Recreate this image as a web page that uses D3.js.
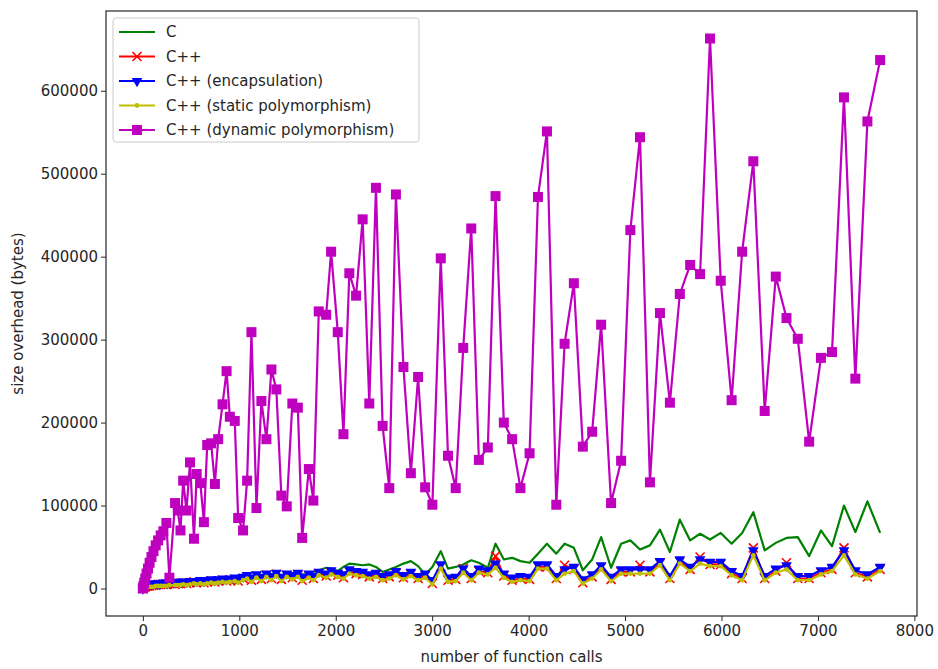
<!DOCTYPE html>
<html>
<head>
<meta charset="utf-8">
<script src="https://cdn.jsdelivr.net/npm/d3@7/dist/d3.min.js"></script>
<style>
    body { margin: 0; background: #fff; }
    svg text { font-family: "DejaVu Sans", sans-serif; fill: #262626; }
</style>
</head>
<body>
<div id="chart"></div>
<script>

// number of function calls (shared x values)
const xCalls = [
    0, 6, 14, 25, 38, 53, 70, 89, 110, 133, 158, 185, 213, 244, 275,
    334, 362, 390, 418, 452, 489, 530, 558, 596, 633, 667, 708, 747, 781, 826,
    868, 902, 953, 988, 1039, 1081, 1126, 1178, 1229, 1281, 1333, 1384, 1436, 1492, 1550,
    1607, 1652, 1721, 1768, 1824, 1901, 1952, 2021, 2080, 2141, 2211, 2279, 2348, 2417, 2486,
    2555, 2624, 2702, 2779, 2854, 2927, 3002, 3089, 3164, 3244, 3322, 3405, 3484, 3577, 3657,
    3743, 3829, 3915, 4010, 4097, 4190, 4287, 4373, 4469, 4562, 4659, 4752, 4855, 4959, 5055,
    5155, 5258, 5362, 5465, 5568, 5675, 5778, 5881, 5992, 6105, 6214, 6330, 6448, 6563, 6674,
    6791, 6909, 7031, 7146, 7270, 7388, 7513, 7645
];

// size overhead (bytes) per variant
const sizeC = [
    0, 3000, 4000, 5000, 5000, 6000, 6000, 6000, 7000, 7000, 7000, 7000, 8000, 8000, 8000,
    8000, 9000, 9000, 9000, 9000, 10000, 10000, 10000, 11000, 10000, 11000, 12000, 11000, 12000, 13000,
    12000, 13000, 14000, 13000, 15000, 17000, 14000, 18000, 15000, 19000, 16000, 20000, 15000, 19000, 17000,
    19000, 17000, 16000, 20000, 22000, 25000, 24000, 21000, 26000, 30000, 29000, 28000, 29000, 26000, 20000,
    23000, 26000, 30000, 33000, 27000, 17000, 26000, 45000, 24000, 26000, 29000, 34000, 31000, 25000, 54000,
    35000, 37000, 33000, 31000, 42000, 54000, 42000, 54000, 49000, 22000, 35000, 62000, 25000, 54000, 58000,
    47000, 52000, 71000, 44000, 83000, 58000, 66000, 59000, 67000, 54000, 67000, 92000, 46000, 55000, 61000,
    62000, 39000, 70000, 51000, 100000, 68000, 105000, 67000
];

const sizeCpp = [
    0, 1000, 2000, 2000, 3000, 3000, 3000, 4000, 4000, 4000, 5000, 5000, 5000, 5000, 6000,
    5000, 6000, 6000, 7000, 6000, 7000, 8000, 7000, 8000, 7000, 8000, 9000, 8000, 9000, 10000,
    9000, 10000, 11000, 9000, 12000, 14000, 10000, 15000, 11000, 16000, 12000, 17000, 11000, 16000, 13000,
    16000, 10000, 15000, 12000, 18000, 15000, 19000, 16000, 13000, 20000, 18000, 17000, 14000, 16000, 12000,
    14000, 18000, 13000, 17000, 12000, 15000, 6000, 26000, 10000, 11000, 24000, 12000, 21000, 19000, 39000,
    15000, 10000, 12000, 11000, 26000, 26000, 12000, 28000, 23000, 7000, 14000, 25000, 11000, 20000, 20000,
    28000, 20000, 30000, 12000, 32000, 23000, 38000, 29000, 29000, 18000, 12000, 49000, 12000, 21000, 31000,
    12000, 12000, 19000, 23000, 49000, 19000, 14000, 23000
];

const sizeEncap = [
    0, 2000, 3000, 4000, 4000, 5000, 5000, 5000, 6000, 6000, 6000, 6000, 7000, 7000, 7000,
    7000, 8000, 8000, 8000, 8000, 9000, 9000, 9000, 10000, 9000, 10000, 11000, 10000, 11000, 12000,
    11000, 12000, 13000, 12000, 14000, 16000, 13000, 17000, 14000, 18000, 15000, 19000, 14000, 18000, 16000,
    19000, 14000, 18000, 15000, 20000, 18000, 22000, 19000, 17000, 23000, 21000, 20000, 17000, 19000, 15000,
    17000, 21000, 16000, 20000, 15000, 18000, 10000, 29000, 13000, 14000, 24000, 15000, 24000, 22000, 30000,
    18000, 13000, 15000, 14000, 29000, 29000, 15000, 23000, 26000, 11000, 17000, 28000, 14000, 23000, 23000,
    23000, 23000, 33000, 15000, 35000, 26000, 35000, 32000, 32000, 21000, 15000, 46000, 15000, 24000, 28000,
    15000, 15000, 22000, 26000, 46000, 22000, 17000, 26000
];

const sizeStatic = [
    0, 0, 1000, 1000, 1000, 2000, 2000, 2000, 2000, 3000, 3000, 3000, 3000, 3000, 4000,
    4000, 4000, 4000, 5000, 4000, 5000, 6000, 5000, 6000, 5000, 6000, 7000, 6000, 7000, 8000,
    7000, 8000, 9000, 7000, 10000, 12000, 8000, 13000, 9000, 14000, 10000, 15000, 9000, 14000, 11000,
    14000, 9000, 13000, 10000, 16000, 13000, 17000, 14000, 12000, 18000, 16000, 15000, 12000, 14000, 10000,
    12000, 16000, 11000, 15000, 10000, 13000, 5000, 24000, 8000, 9000, 19000, 10000, 19000, 17000, 25000,
    13000, 8000, 10000, 9000, 24000, 24000, 10000, 18000, 21000, 6000, 12000, 23000, 9000, 18000, 18000,
    18000, 18000, 28000, 10000, 30000, 21000, 30000, 27000, 27000, 16000, 10000, 40000, 10000, 19000, 23000,
    10000, 10000, 17000, 21000, 40000, 17000, 12000, 21000
];

const sizeDynamic = [
    0, 3000, 7000, 12000, 18000, 24000, 31000, 38000, 45000, 52000, 58000, 64000, 69000, 79000, 13000,
    103000, 94000, 70000, 130000, 94000, 152000, 60000, 138000, 127000, 80000, 173000, 175000, 126000, 180000, 222000,
    262000, 207000, 202000, 85000, 70000, 130000, 309000, 97000, 226000, 180000, 264000, 240000, 112000, 99000, 223000,
    218000, 61000, 144000, 106000, 334000, 330000, 406000, 309000, 186000, 380000, 353000, 445000, 223000, 483000, 196000,
    121000, 475000, 267000, 139000, 255000, 122000, 101000, 398000, 160000, 121000, 290000, 434000, 155000, 170000, 473000,
    200000, 180000, 121000, 163000, 472000, 551000, 101000, 295000, 368000, 171000, 189000, 318000, 103000, 154000, 432000,
    544000, 128000, 332000, 224000, 355000, 390000, 379000, 663000, 371000, 227000, 406000, 515000, 214000, 376000, 326000,
    301000, 177000, 278000, 285000, 592000, 253000, 563000, 637000
];

const seriesNames = ["C", "C++", "C++ (encapsulation)", "C++ (static polymorphism)", "C++ (dynamic polymorphism)"];
const xTicks = [0, 1000, 2000, 3000, 4000, 5000, 6000, 7000, 8000];
const yTicks = [0, 100000, 200000, 300000, 400000, 500000, 600000];

// series table: drawn in this order (later ones on top)
let series = [
    {name: seriesNames[0], values: sizeC,       color: "#008000", marker: "none"},
    {name: seriesNames[1], values: sizeCpp,     color: "#ff0000", marker: "x"},
    {name: seriesNames[2], values: sizeEncap,   color: "#0000ff", marker: "v"},
    {name: seriesNames[3], values: sizeStatic,  color: "#bfbf00", marker: "."},
    {name: seriesNames[4], values: sizeDynamic, color: "#bf00bf", marker: "s"}
];

let width = 938, height = 669;
let margin = {top: 11, right: 21, bottom: 53, left: 106};
let plotW = width - margin.left - margin.right;
let plotH = height - margin.top - margin.bottom;
let fontSize = 15;

let svg = d3.select("#chart").append("svg")
    .attr("width", width)
    .attr("height", height);

let g = svg.append("g")
    .attr("transform", `translate(${margin.left},${margin.top})`);

// matplotlib style 5% margins around the data
let xExt = d3.extent(xCalls);
let xPad = (xExt[1] - xExt[0]) * 0.05;
let allY = series.flatMap(s => s.values);
let yExt = d3.extent(allY);
let yPad = (yExt[1] - yExt[0]) * 0.05;

let x = d3.scaleLinear()
    .domain([xExt[0] - xPad, xExt[1] + xPad])
    .range([0, plotW]);

let y = d3.scaleLinear()
    .domain([yExt[0] - yPad, yExt[1] + yPad])
    .range([plotH, 0]);

// axes
let xAxis = g.append("g")
    .attr("transform", `translate(0,${plotH})`)
    .call(d3.axisBottom(x).tickValues(xTicks).tickFormat(d3.format("d")).tickSize(5).tickPadding(4));

let yAxis = g.append("g")
    .call(d3.axisLeft(y).tickValues(yTicks).tickFormat(d3.format("d")).tickSize(5).tickPadding(3));

[xAxis, yAxis].forEach(a => {
    a.select(".domain").remove();
    a.selectAll(".tick line").attr("stroke", "#262626").attr("stroke-width", 1);
    a.selectAll(".tick text").attr("font-size", fontSize).style("fill", "#262626");
});

// lines and markers
let line = d3.line()
    .x((d, i) => x(xCalls[i]))
    .y(d => y(d));

svg.append("clipPath").attr("id", "plotclip")
    .append("rect").attr("width", plotW).attr("height", plotH);

let plot = g.append("g").attr("clip-path", "url(#plotclip)");

function drawMarker(sel, s) {
    if (s.marker === "x") {
        sel.append("path")
            .attr("d", "M-4.5,-4.5L4.5,4.5M-4.5,4.5L4.5,-4.5")
            .attr("stroke", s.color)
            .attr("stroke-width", 1.6)
            .attr("fill", "none");
    } else if (s.marker === "v") {
        sel.append("path")
            .attr("d", d3.symbol(d3.symbolTriangle, 50))
            .attr("transform", "rotate(180)")
            .attr("fill", s.color);
    } else if (s.marker === ".") {
        sel.append("circle")
            .attr("r", 2.4)
            .attr("fill", s.color);
    } else if (s.marker === "s") {
        sel.append("rect")
            .attr("x", -5).attr("y", -5)
            .attr("width", 10).attr("height", 10)
            .attr("fill", s.color);
    }
}

series.forEach(s => {
    let sg = plot.append("g").attr("class", "series");

    sg.append("path")
        .datum(s.values)
        .attr("d", line)
        .attr("fill", "none")
        .attr("stroke", s.color)
        .attr("stroke-width", 2.2)
        .attr("stroke-linejoin", "round");

    if (s.marker !== "none") {
        sg.selectAll(".mk")
            .data(s.values)
            .enter()
            .append("g")
            .attr("class", "mk")
            .attr("transform", (d, i) => `translate(${x(xCalls[i])},${y(d)})`)
            .each(function() { drawMarker(d3.select(this), s); });
    }
});

// frame
g.append("rect")
    .attr("width", plotW)
    .attr("height", plotH)
    .attr("fill", "none")
    .attr("stroke", "#262626")
    .attr("stroke-width", 1.2);

// axis labels
svg.append("text")
    .attr("x", margin.left + plotW / 2)
    .attr("y", 662)
    .attr("text-anchor", "middle")
    .attr("font-size", fontSize)
    .text("number of function calls");

svg.append("text")
    .attr("transform", `translate(23,${margin.top + plotH / 2}) rotate(-90)`)
    .attr("text-anchor", "middle")
    .attr("font-size", fontSize)
    .text("size overhead (bytes)");

// legend
let legend = g.append("g").attr("transform", "translate(7,7)");

legend.append("rect")
    .attr("width", 306)
    .attr("height", 124)
    .attr("rx", 3)
    .attr("fill", "#fff")
    .attr("fill-opacity", 0.8)
    .attr("stroke", "#cccccc");

series.forEach((s, i) => {
    let row = legend.append("g").attr("transform", `translate(6,${14 + i * 24.5})`);
    row.append("line")
        .attr("x1", 0).attr("x2", 36)
        .attr("stroke", s.color)
        .attr("stroke-width", 2.2);
    let m = row.append("g").attr("transform", "translate(18,0)");
    drawMarker(m, s);
    row.append("text")
        .attr("x", 47)
        .attr("dy", "0.35em")
        .attr("font-size", fontSize)
        .text(s.name);
});

</script>
</body>
</html>
